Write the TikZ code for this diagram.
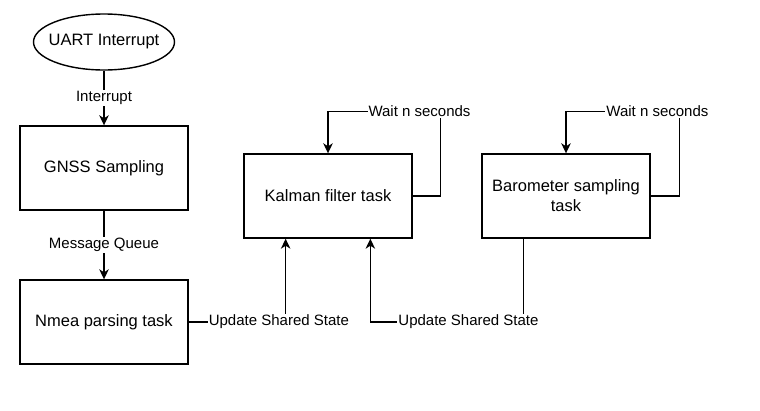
\documentclass[tikz,border=0pt]{standalone}
\usepackage{fontspec}
\setmainfont{Liberation Sans}
\usetikzlibrary{shapes.geometric,arrows.meta,calc}

\tikzset{
	task/.style={draw, line width=1.4pt, minimum width=168pt, minimum height=84pt, inner sep=0pt, align=center, font=\fontsize{16.5}{20}\selectfont},
	flow/.style={line width=1.4pt, -{Stealth[length=10pt, width=9.5pt, inset=3pt]}},
	lbl/.style={fill=white, inner sep=1pt, font=\fontsize{15}{18}\selectfont}
}

\begin{document}
\begin{tikzpicture}[x=1pt, y=-1pt]
		\useasboundingbox (0,0) rectangle (760,410);
		\node[draw, ellipse, line width=1.4pt, minimum width=141pt, minimum height=56pt, inner sep=0pt, label={[font=\fontsize{16.5}{20}\selectfont]center:UART Interrupt}] (uart) at (104,42) {};
		\node[task] (gnss) at (104,168) {GNSS Sampling};
		\node[task] (nmea) at (104,322) {Nmea parsing task};
		\node[task] (kalman) at (328,196) {Kalman filter task};
		\node[task] (baro) at (566,196) {Barometer sampling\\task};
		
		\coordinate (k1) at ($(kalman.south west)!0.25!(kalman.south east)$);
		\coordinate (k2) at ($(kalman.south west)!0.75!(kalman.south east)$);
		\coordinate (b1) at ($(baro.south west)!0.25!(baro.south east)$);
		
		\draw[flow] (uart) -- (gnss) node[lbl, midway] {Interrupt};
		\draw[flow] (gnss) -- (nmea) node[lbl, midway] {Message Queue};
		\draw[flow] (nmea.east) -| node[lbl, pos=0.465] {Update Shared State} (k1);
		\draw[flow] (b1) -- (b1 |- nmea.east) -| node[lbl, pos=0.18] {Update Shared State} (k2);
		
		\draw[flow] (kalman.east) -- ++(28,0) |- node[lbl, pos=0.594] {Wait n seconds} ([yshift=42pt]kalman.north) -- (kalman.north);
		\draw[flow] (baro.east) -- ++(29,0) |- node[lbl, pos=0.598] {Wait n seconds} ([yshift=42pt]baro.north) -- (baro.north);
	\end{tikzpicture}
\end{document}
